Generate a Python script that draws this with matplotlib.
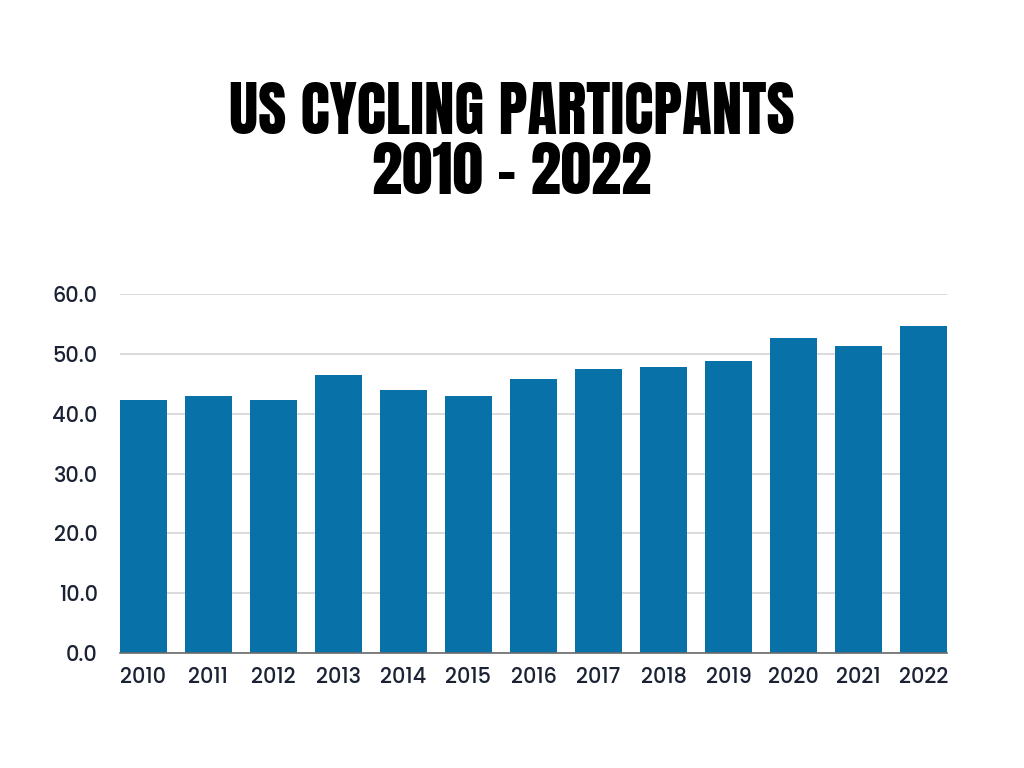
import matplotlib.pyplot as plt
from matplotlib import font_manager

# Data
years = ['2010', '2011', '2012', '2013', '2014', '2015', '2016',
         '2017', '2018', '2019', '2020', '2021', '2022']
participants = [42.3, 42.9, 42.2, 46.5, 43.9, 43.0, 45.7,
                47.4, 47.8, 48.8, 52.6, 51.3, 54.6]
y_ticks = [0, 10, 20, 30, 40, 50, 60]

names = {f.name for f in font_manager.fontManager.ttflist}


def pick(cands):
    for c in cands:
        if c in names:
            return c
    return 'DejaVu Sans'


title_font = pick(['Anton', 'Bebas Neue', 'League Gothic', 'Oswald'])
tick_font = pick(['Poppins', 'Lato'])

fig = plt.figure(figsize=(10.24, 7.68), dpi=100)
ax = fig.add_axes([0.117, 0.1493, 0.808, 0.4683])

x = range(len(years))
ax.bar(x, participants, width=0.72, color='#0872a8', zorder=3)

ax.set_xlim(-0.36, len(years) - 1 + 0.36)
ax.set_ylim(0, 60)
ax.set_yticks(y_ticks)
ax.set_yticklabels([f"{v:.1f}" for v in y_ticks])
ax.set_xticks(list(x))
ax.set_xticklabels(years)

ax.grid(axis='y', color='#d4d4d4', linewidth=1.2, zorder=0)
for s in ['top', 'right', 'left']:
    ax.spines[s].set_visible(False)
ax.spines['bottom'].set_color('#6b6b6b')
ax.spines['bottom'].set_linewidth(1.2)
ax.spines['bottom'].set_zorder(4)
ax.tick_params(axis='both', length=0, labelsize=15, labelcolor='#1b2233')
ax.tick_params(axis='x', pad=10)
ax.tick_params(axis='y', pad=16)
for lab in ax.get_xticklabels() + ax.get_yticklabels():
    lab.set_fontfamily(tick_font)
    lab.set_fontweight('medium')

fig.text(0.5, 0.816, "US CYCLING PARTICPANTS\n2010 - 2022", ha='center', va='center',
         fontsize=44, family=title_font, color='black', linespacing=1.03)

plt.savefig('out.png', dpi=100)
plt.close()
